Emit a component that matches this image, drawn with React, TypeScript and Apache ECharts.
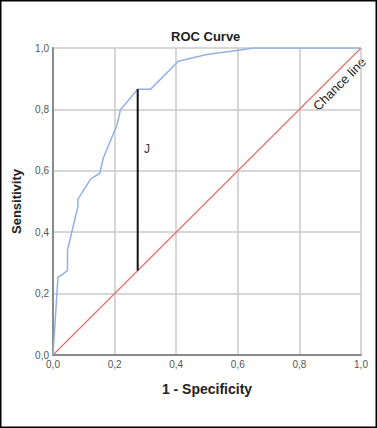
import React, { useEffect, useRef } from "react";
import * as echarts from "echarts";

const fpr = [0, 0.016, 0.047, 0.047, 0.081, 0.081, 0.122, 0.152, 0.163, 0.208, 0.219, 0.275, 0.317, 0.407, 0.499, 0.602, 0.651, 1.0];
const tpr = [0, 0.252, 0.275, 0.342, 0.484, 0.508, 0.573, 0.592, 0.641, 0.750, 0.799, 0.866, 0.866, 0.957, 0.979, 0.993, 1.0, 1.0];
const chance = [[0, 0], [1, 1]];
const jX = 0.275;
const jBottom = 0.275;
const jTop = 0.866;

const fmt = (v: number) => v.toFixed(1).replace(".", ",");

export default function App() {
  const ref = useRef<HTMLDivElement>(null);
  useEffect(() => {
    if (!ref.current) return;
    const chart = echarts.init(ref.current, null, { renderer: "svg" });
    const font = "Liberation Sans, Arial, Helvetica, sans-serif";
    chart.setOption({
      animation: false,
      backgroundColor: "#ffffff",
      textStyle: { fontFamily: font },
      title: {
        text: "ROC Curve",
        left: 166,
        top: 25,
        textStyle: { fontSize: 13, fontWeight: "bold", color: "#222", fontFamily: font },
      },
      grid: { left: 53, right: 16, top: 48, bottom: 73 },
      xAxis: {
        type: "value",
        min: 0,
        max: 1,
        interval: 0.2,
        name: "1 - Specificity",
        nameLocation: "middle",
        nameGap: 27,
        nameTextStyle: { fontSize: 14, fontWeight: "bold", color: "#222", fontFamily: font },
        axisLine: { show: true, onZero: false, lineStyle: { color: "#8a8a8a", width: 2 } },
        axisTick: { show: false },
        axisLabel: { formatter: (v: number) => fmt(v), fontSize: 10, color: "#555", margin: 4, fontFamily: font },
        splitLine: { show: true, lineStyle: { color: "#cacaca", width: 1.5 } },
      },
      yAxis: {
        type: "value",
        min: 0,
        max: 1,
        interval: 0.2,
        name: "Sensitivity",
        nameLocation: "middle",
        nameGap: 30,
        nameTextStyle: { fontSize: 13, fontWeight: "bold", color: "#222", fontFamily: font },
        axisLine: { show: true, onZero: false, lineStyle: { color: "#8a8a8a", width: 2 } },
        axisTick: { show: false },
        axisLabel: { formatter: (v: number) => fmt(v), fontSize: 10, color: "#555", margin: 4, fontFamily: font },
        splitLine: { show: true, lineStyle: { color: "#cacaca", width: 1.5 } },
      },
      series: [
        {
          type: "line",
          data: chance,
          symbol: "none",
          lineStyle: { color: "#e5706c", width: 1.2 },
          z: 3,
        },
        {
          type: "line",
          data: fpr.map((x, i) => [x, tpr[i]]),
          symbol: "none",
          lineStyle: { color: "#92b0e6", width: 1.5 },
          z: 4,
        },
        {
          type: "line",
          data: [[jX, jBottom], [jX, jTop]],
          symbol: "none",
          lineStyle: { color: "#111", width: 2 },
          z: 5,
        },
      ],
      graphic: [
        {
          type: "text",
          x: 147,
          y: 149,
          style: { text: "J", fontSize: 12, fill: "#333", fontFamily: font, align: "center", verticalAlign: "middle" },
        },
        {
          type: "text",
          x: 339.5,
          y: 84,
          rotation: Math.PI / 4,
          style: { text: "Chance line", fontSize: 13, fill: "#222", fontFamily: font, align: "center", verticalAlign: "middle" },
        },
        {
          type: "rect",
          shape: { x: 0.75, y: 0.75, width: 375.5, height: 426.5 },
          style: { fill: "none", stroke: "#000", lineWidth: 1.5 },
          silent: true,
        },
      ],
    });
    return () => chart.dispose();
  }, []);
  return (
    <div
      ref={ref}
      style={{ position: "absolute", left: 0, top: 0, width: 377, height: 428 }}
    />
  );
}
